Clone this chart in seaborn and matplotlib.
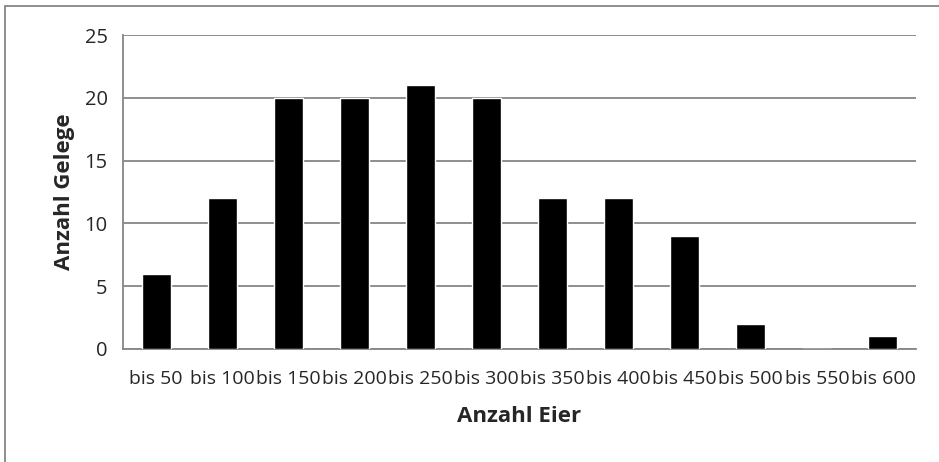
import pandas as pd
import matplotlib.pyplot as plt
import seaborn as sns
from matplotlib.patches import Rectangle

# --- Datos ---
klassen = ['bis 50', 'bis 100', 'bis 150', 'bis 200', 'bis 250', 'bis 300',
           'bis 350', 'bis 400', 'bis 450', 'bis 500', 'bis 550', 'bis 600']
gelege = [6, 12, 20, 20, 21, 20, 12, 12, 9, 2, 0, 1]
y_ticks = [0, 5, 10, 15, 20, 25]

df = pd.DataFrame({'Klasse': klassen, 'Gelege': gelege})

sns.set_style('white')
plt.rcParams['font.family'] = ['Open Sans', 'DejaVu Sans']

grau = '#868686'

fig = plt.figure(figsize=(9.39, 4.62), dpi=100)
ax = fig.add_axes([0.131, 0.2446, 0.8445, 0.6794])

sns.barplot(data=df, x='Klasse', y='Gelege', color='black', width=0.44,
            saturation=1, ax=ax, zorder=3)

ax.set_ylim(0, 25)
ax.set_xlim(-0.5, len(klassen) - 0.5)
ax.set_yticks(y_ticks)
ax.yaxis.grid(True, color=grau, linewidth=1.3, zorder=0)
ax.set_axisbelow(True)

# Achsen wie in Excel
for s in ['top', 'right']:
    ax.spines[s].set_visible(False)
for s in ['left', 'bottom']:
    ax.spines[s].set_color(grau)
    ax.spines[s].set_linewidth(1.3)

ax.tick_params(axis='y', length=6, color=grau, width=1.3, labelsize=14.5, pad=5)
# Striche an den Klassengrenzen, Beschriftung in der Mitte
ax.set_xticks([i - 0.5 for i in range(len(klassen) + 1)], minor=False)
ax.set_xticklabels([])
ax.set_xticks(range(len(klassen)), minor=True)
ax.set_xticklabels(klassen, minor=True)
ax.tick_params(axis='x', which='major', length=6, color=grau, width=1.3, direction='out')
ax.tick_params(axis='x', which='minor', length=0, labelsize=14, pad=15)

ax.set_xlabel('Anzahl Eier', fontsize=16, fontweight='bold', labelpad=13)
ax.set_ylabel('Anzahl Gelege', fontsize=16, fontweight='bold', labelpad=7)

# Rahmen um das Diagramm (rechts und unten abgeschnitten)
fig.patches.append(Rectangle((5 / 939, -10 / 462), 950 / 939, 466 / 462,
                             transform=fig.transFigure, fill=False,
                             edgecolor=grau, linewidth=1.3))

plt.savefig('out.png', dpi=100)
plt.close()
